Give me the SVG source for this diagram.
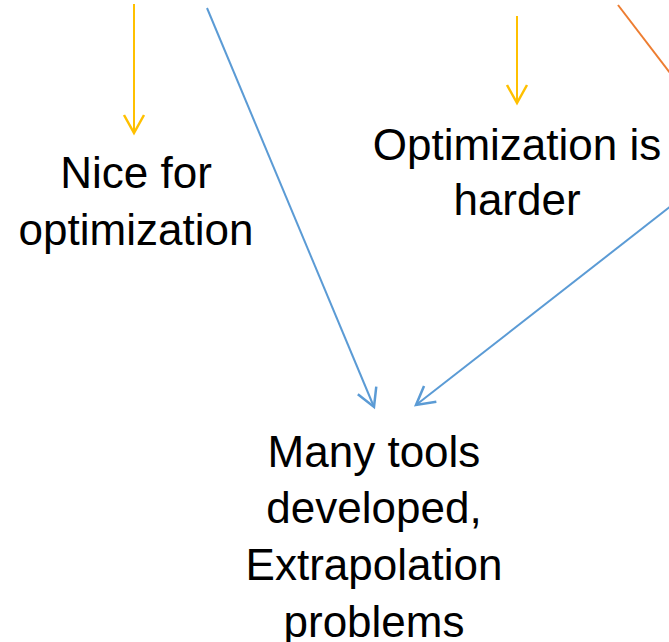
<svg xmlns="http://www.w3.org/2000/svg" width="669" height="642" viewBox="0 0 669 642">
<style>
.lbl{font-family:"Liberation Sans",Arial,sans-serif;font-size:44px;fill:#000;text-anchor:middle}
.c{fill:none;stroke-width:2}
.y{stroke:#FFC000}
.b{stroke:#5B9BD5}
.o{stroke:#ED7D31}
</style>
<defs>
<marker id="ay" markerUnits="userSpaceOnUse" orient="auto" refX="0" refY="0" markerWidth="1" markerHeight="1" overflow="visible"><path d="M-18,-10 L0,0 L-18,10" fill="none" stroke="#FFC000" stroke-width="2.5"/></marker>
<marker id="ab" markerUnits="userSpaceOnUse" orient="auto" refX="0" refY="0" markerWidth="1" markerHeight="1" overflow="visible"><path d="M-18,-10 L0,0 L-18,10" fill="none" stroke="#5B9BD5" stroke-width="2.5"/></marker>
</defs>
<rect width="669" height="642" fill="#fff"/>
<g id="connectors">
<line class="c y" x1="134" y1="4" x2="134" y2="133" marker-end="url(#ay)"/>
<line class="c y" x1="517" y1="16" x2="517" y2="103" marker-end="url(#ay)"/>
<line class="c b" x1="207" y1="8" x2="374" y2="407" marker-end="url(#ab)"/>
<line class="c b" x1="680" y1="199" x2="416" y2="405" marker-end="url(#ab)"/>
<line class="c o" x1="618" y1="5" x2="680" y2="86"/>
</g>
<g id="node-nice">
<text class="lbl" x="136" y="188">Nice for</text>
<text class="lbl" x="136" y="245">optimization</text>
</g>
<g id="node-harder">
<text class="lbl" x="517" y="160">Optimization is</text>
<text class="lbl" x="517" y="215">harder</text>
</g>
<g id="node-tools">
<text class="lbl" x="374" y="467">Many tools</text>
<text class="lbl" x="374" y="523">developed,</text>
<text class="lbl" x="374" y="580">Extrapolation</text>
<text class="lbl" x="374" y="637">problems</text>
</g>
</svg>
